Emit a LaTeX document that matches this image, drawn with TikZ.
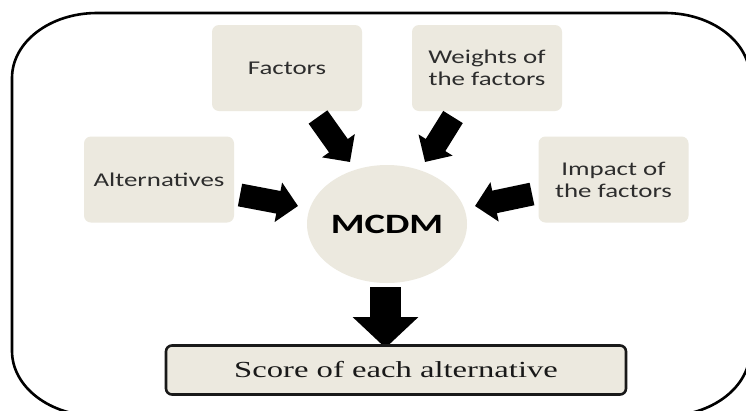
\documentclass[tikz,border=0pt]{standalone}
\usepackage{fontspec}
\setmainfont{Carlito}
\newfontfamily\boxfont[FakeStretch=1.38]{Carlito}
\newfontfamily\scorefont[FakeStretch=1.42]{Liberation Serif}
\usetikzlibrary{arrows.meta,shapes.geometric}
\definecolor{beige}{RGB}{236,233,223}
\definecolor{txt}{RGB}{45,45,45}
\begin{document}
\begin{tikzpicture}[x=1pt,y=-1pt,
  box/.style={fill=beige, rounded corners=7pt, minimum width=150pt, minimum height=86pt,
    inner sep=0pt, align=center, text=txt, font=\boxfont\fontsize{19.5}{22}\selectfont},
  blk/.style={line width=23pt, -{Triangle[width=39pt,length=20pt]}},
  bigblk/.style={line width=31pt, -{Triangle[width=64pt,length=31pt]}},
]
\useasboundingbox (0,0) rectangle (746,410);
\clip (0,0) rectangle (746,410);
\fill[white] (0,0) rectangle (746,410);
\draw[line width=2.6pt] (12,78) .. controls (12,42) and (50,13) .. (97,13) -- (665,13)
  .. controls (712,13) and (750,42) .. (750,78) -- (750,351)
  .. controls (750,387) and (712,416) .. (665,416) -- (97,416)
  .. controls (50,416) and (12,387) .. (12,351) -- cycle;

\node[box] (fac) at (287,68) {Factors};
\node[box] (wei) at (487,68) {Weights of\\the factors};
\node[box] (alt) at (159,179.5) {Alternatives};
\node[box] (imp) at (613.5,179.5) {Impact of\\the factors};
\node[ellipse, fill=beige, minimum width=160pt, minimum height=118pt, inner sep=0pt,
  font=\boxfont\bfseries\fontsize{28}{30}\selectfont] (mcdm) at (387,224) {MCDM};

\coordinate (a1) at (240,195);  \coordinate (a2) at (298,206);
\coordinate (f1) at (318,117);  \coordinate (f2) at (350,162);
\coordinate (w1) at (453,117);  \coordinate (w2) at (425,162);
\coordinate (i1) at (532,194);  \coordinate (i2) at (475,206);
\coordinate (d1) at (385.5,287); \coordinate (d2) at (385.5,348);

\draw[blk] (a1) -- (a2);
\draw[blk] (f1) -- (f2);
\draw[blk] (w1) -- (w2);
\draw[blk] (i1) -- (i2);
\draw[bigblk] (d1) -- (d2);

\node[draw=black!90, line width=2.6pt, fill=beige, rounded corners=6pt, minimum width=460pt,
  minimum height=49pt, inner sep=0pt, text=black!90,
  font=\scorefont\fontsize{23}{25}\selectfont] (score) at (396,370) {Score of each alternative};
\end{tikzpicture}
\end{document}
